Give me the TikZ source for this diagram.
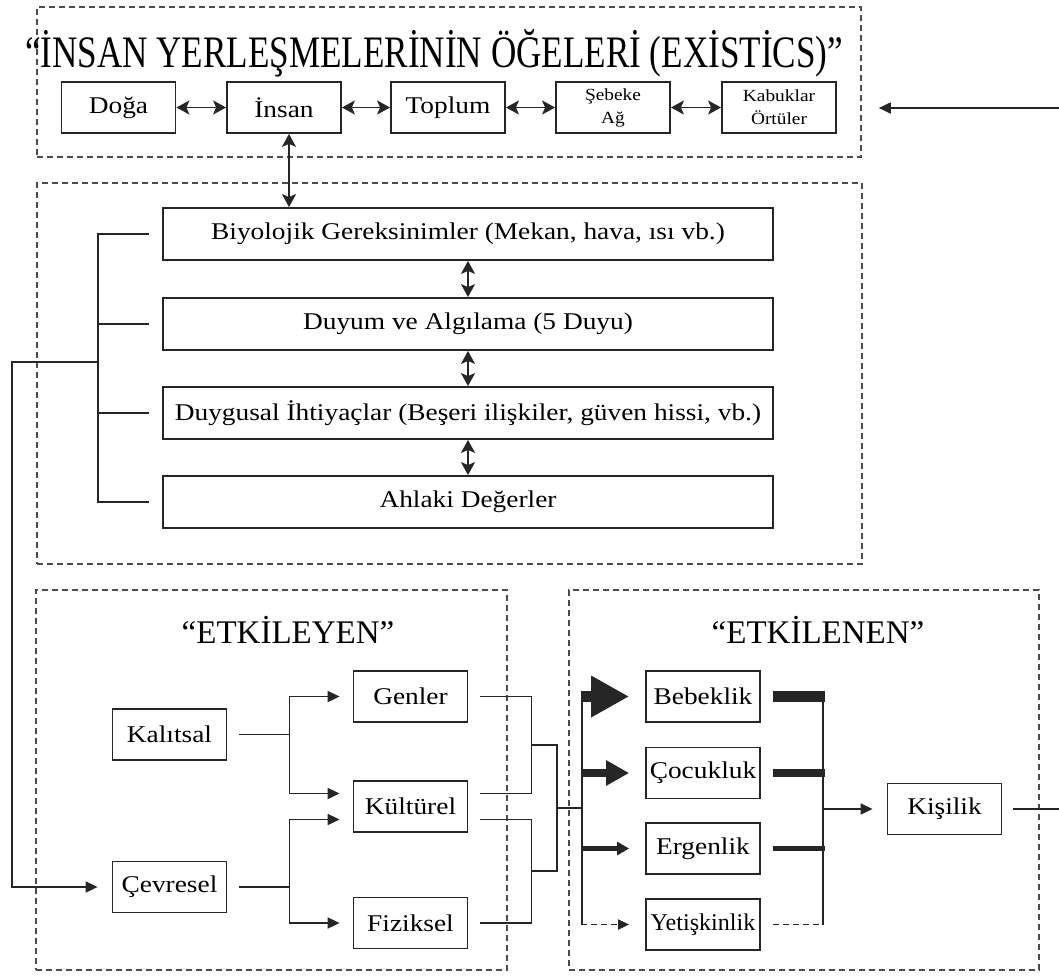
\documentclass[tikz,border=0pt]{standalone}
\usepackage{fontspec}
\setmainfont{Liberation Serif}[FakeStretch=1.14]
\newfontfamily\titlefont{Liberation Serif}[FakeStretch=0.78]
\newfontfamily\headfont{Liberation Serif}
\usetikzlibrary{arrows.meta}
\begin{document}
\begin{tikzpicture}[x=1pt,y=-1pt,
  box/.style={draw=black!85,line width=1.8pt,inner sep=0pt,minimum width=114pt,minimum height=51pt,font=\fontsize{24}{26}\selectfont},
  wbox/.style={box,minimum width=610pt,minimum height=52pt},
  smalltxt/.style={align=center,font=\fontsize{17}{23}\selectfont},
  dbox/.style={draw=black!70,line width=1.6pt,dash pattern=on 6pt off 4pt,inner sep=0pt},
  ln/.style={draw=black!85,line width=1.8pt},
  arr/.style={ln,-{Triangle[length=12pt,width=11pt]}},
  darr/.style={ln,{Stealth[length=13pt,width=14pt,inset=3pt]}-{Stealth[length=13pt,width=14pt,inset=3pt]}},
  head/.style={anchor=base,inner sep=0pt,font=\headfont\fontsize{33}{36}\selectfont}
]
\useasboundingbox (0,0) rectangle (1059,975);

% dashed frames
\node[dbox,minimum width=824pt,minimum height=150pt] (top) at (449,82) {};
\node[dbox,minimum width=825pt,minimum height=381pt] (mid) at (449.5,373.5) {};
\node[dbox,minimum width=471pt,minimum height=380pt] (lft) at (271.5,780) {};
\node[dbox,minimum width=470pt,minimum height=380pt] (rgt) at (804,780) {};

% top section
\node[anchor=base,inner sep=0pt,font=\titlefont\fontsize{45}{50}\selectfont] (title) at (434,67) {“İNSAN YERLEŞMELERİNİN ÖĞELERİ (EXİSTİCS)”};
\node[box] (doga) at (118.5,107.5) {Doğa};
\node[box] (insan) at (284,107.5) {İnsan};
\node[box] (toplum) at (448,107.5) {Toplum};
\node[box,smalltxt] (sebeke) at (613,107.5) {Şebeke\\Ağ};
\node[box,smalltxt] (kabuk) at (779,107.5) {Kabuklar\\Örtüler};
\draw[darr] (doga) -- (insan);
\draw[darr] (insan) -- (toplum);
\draw[darr] (toplum) -- (sebeke);
\draw[darr] (sebeke) -- (kabuk);
\coordinate (rin) at (1059,108);
\draw[arr,shorten >=17pt] (rin) -- (rin -| top.east);

% middle section
\node[wbox] (biyo) at (468,234) {Biyolojik Gereksinimler (Mekan, hava, ısı vb.)};
\node[wbox] (duyum) at (468,324) {Duyum ve Algılama (5 Duyu)};
\node[wbox] (duyg) at (468,413) {Duygusal İhtiyaçlar (Beşeri ilişkiler, güven hissi, vb.)};
\node[wbox] (ahlak) at (468,502) {Ahlaki Değerler};
\draw[darr] ([xshift=5pt]insan.south) -- ([xshift=5pt]insan.south |- biyo.north);
\draw[darr] (biyo) -- (duyum);
\draw[darr] (duyum) -- (duyg);
\draw[darr] (duyg) -- (ahlak);
\draw[ln] ([xshift=-13pt]biyo.west) -- ++(-51,0) |- ([xshift=-13pt]ahlak.west);
\draw[ln] ([xshift=-13pt]duyum.west) -- ++(-51,0);
\draw[ln] ([xshift=-13pt]duyg.west) -- ++(-51,0);
\coordinate (bk) at (99,362);

% ETKILEYEN
\node[head] (t2) at (288,643) {“ETKİLEYEN”};
\node[box] (kal) at (169.5,734.5) {Kalıtsal};
\node[box] (cev) at (169.5,887) {Çevresel};
\node[box] (gen) at (410.5,696.5) {Genler};
\node[box] (kul) at (410.5,806.5) {Kültürel};
\node[box] (fiz) at (410.5,923) {Fiziksel};
\draw[arr,shorten >=14pt] (bk) -- ++(-87,0) |- (cev.west);
\draw[arr,shorten >=13pt] ([xshift=12pt]kal.east) -- ++(50,0) |- (gen.west);
\draw[arr,shorten >=13pt] ([xshift=12pt]kal.east) -- ++(50,0) |- ([yshift=13pt]kul.west);
\draw[arr,shorten >=13pt] ([xshift=12pt]cev.east) -- ++(50,0) |- ([yshift=-13pt]kul.west);
\draw[arr,shorten >=13pt] ([xshift=12pt]cev.east) -- ++(50,0) |- (fiz.west);
\draw[ln] ([xshift=12pt]gen.east) -- ++(51,0) |- ([xshift=12pt,yshift=13pt]kul.east);
\draw[ln] ([xshift=12pt,yshift=-13pt]kul.east) -- ++(51,0) |- ([xshift=12pt]fiz.east);
\coordinate (m1) at (531,745);
\coordinate (m2) at (531,871);
\draw[ln] (m1) -- ++(26,0) |- (m2);
\coordinate (m3) at (557,808);
\coordinate (v0) at (582,808);
\draw[ln] (m3) -- (v0);

% ETKILENEN
\node[head] (t3) at (818,643) {“ETKİLENEN”};
\node[box] (beb) at (703,696.5) {Bebeklik};
\node[box] (coc) at (703,773) {Çocukluk};
\node[box] (erg) at (703,848.5) {Ergenlik};
\node[box] (yet) at (703,924.5) {\scalebox{0.88}[1]{Yetişkinlik}};
\node[box] (kis) at (944.5,809) {Kişilik};
\coordinate (va) at (582,691);
\coordinate (vb) at (582,925.4);
\draw[ln] (va) -- (vb);
\draw[draw=black!85,line width=11pt,-{Triangle[length=38pt,width=39pt]},shorten >=16pt] (581.1,696.5) -- (beb.west);
\draw[draw=black!85,line width=8pt,-{Triangle[length=23pt,width=24pt]},shorten >=16pt] (581.1,773) -- (coc.west);
\draw[draw=black!85,line width=4.5pt,-{Triangle[length=12pt,width=13pt]},shorten >=16pt] (581.1,848.5) -- (erg.west);
\draw[ln,dash pattern=on 6pt off 4pt,-{Triangle[length=11pt,width=10pt]},shorten >=16pt] (581.1,924.5) -- (yet.west);
\draw[draw=black!85,line width=11pt] ([xshift=12pt]beb.east) -- ([xshift=64pt]beb.east);
\draw[draw=black!85,line width=8pt] ([xshift=12pt]coc.east) -- ([xshift=64pt]coc.east);
\draw[draw=black!85,line width=4.5pt] ([xshift=12pt]erg.east) -- ([xshift=64pt]erg.east);
\draw[ln,dash pattern=on 6pt off 4pt] ([xshift=12pt]yet.east) -- ([xshift=63pt]yet.east);
\coordinate (wa) at (823,691);
\coordinate (wb) at (823,925.4);
\draw[ln] (wa) -- (wb);
\coordinate (w0) at (823,809);
\draw[arr,shorten >=14pt] (w0) -- (kis.west);
\coordinate (kout) at (1059,809);
\draw[ln] ([xshift=11pt]kis.east) -- (kout);
\end{tikzpicture}
\end{document}
